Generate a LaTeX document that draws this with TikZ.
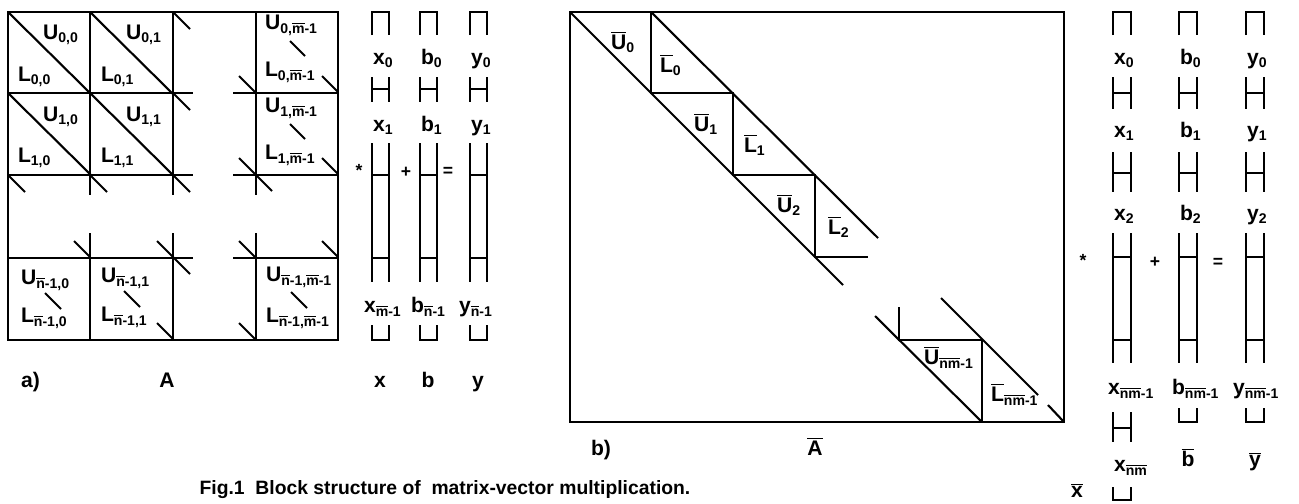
\documentclass[tikz,border=0pt]{standalone}
\usepackage{fontspec}
\setmainfont{Liberation Sans}
\usepackage{tikz}
\usetikzlibrary{positioning}
\newcommand{\ob}[1]{\ensuremath{\overline{\mbox{#1}}}}
\newcommand{\sx}[1]{\textsubscript{#1}}

\begin{document}
\begin{tikzpicture}[x=0.02cm, y=-0.02cm, line width=1.2pt,
    every node/.style={font=\fontsize{12}{14}\selectfont\bfseries, inner sep=0pt, anchor=mid},
    lbl/.style={anchor=mid west},
    op/.style={font=\fontsize{10}{12}\selectfont\bfseries}]
\useasboundingbox (0,0) rectangle (1299,504);

% a) block matrix A
\draw (8,12) rectangle (338,340);
\foreach \x in {90,173,256} {
    \draw (\x,12) -- (\x,195);
    \draw (\x,233) -- (\x,340);
}
\foreach \y in {93,175,258} {
    \draw (8,\y) -- (193,\y);
    \draw (233,\y) -- (338,\y);
}
\foreach \x/\y in {8/12,90/12,8/93,90/93}
    \draw (\x,\y) -- ++(83,82);
\foreach \x/\y/\l in {173/12/17,173/93/17,8/175/17,90/175/17,173/175/17,
        239/76/17,239/158/33,322/76/16,322/158/16,74/241/16,157/241/33,
        239/241/17,322/241/16,239/323/17,157/323/16,
        290/41/15,290/124/15,45/293/16,124/291/16,291/292/16}
    \draw (\x,\y) -- ++(\l,\l);

\node[lbl] (u00) at (42,35) {U\sx{0,0}};
\node[lbl] (l00) at (17,77) {L\sx{0,0}};
\node[lbl] (u01) at (125,35) {U\sx{0,1}};
\node[lbl] (l01) at (100,77) {L\sx{0,1}};
\node[lbl] (u10) at (42,117) {U\sx{1,0}};
\node[lbl] (l10) at (17,158) {L\sx{1,0}};
\node[lbl] (u11) at (125,117) {U\sx{1,1}};
\node[lbl] (l11) at (100,158) {L\sx{1,1}};
\node[lbl] (u0m) at (264,25) {U\sx{0,\ob{m}-1}};
\node[lbl] (l0m) at (264,72) {L\sx{0,\ob{m}-1}};
\node[lbl] (u1m) at (264,108) {U\sx{1,\ob{m}-1}};
\node[lbl] (l1m) at (264,155) {L\sx{1,\ob{m}-1}};
\node[lbl] (un0) at (20,280) {U\sx{\ob{n}-1,0}};
\node[lbl] (ln0) at (20,318) {L\sx{\ob{n}-1,0}};
\node[lbl] (un1) at (100,278) {U\sx{\ob{n}-1,1}};
\node[lbl] (ln1) at (100,317) {L\sx{\ob{n}-1,1}};
\node[lbl] (unm) at (265,277) {U\sx{\ob{n}-1,\ob{m}-1}};
\node[lbl] (lnm) at (265,318) {L\sx{\ob{n}-1,\ob{m}-1}};

% a) vectors x, b, y
\foreach \x in {372,420,470} {
    \draw (\x,35) -- (\x,12) -- (\x+17,12) -- (\x+17,35);
    \draw (\x,77) -- (\x,102) (\x+17,77) -- (\x+17,102) (\x,89) -- (\x+17,89);
    \draw (\x,143) -- (\x,282) (\x+17,143) -- (\x+17,282);
    \draw (\x,175) -- (\x+17,175) (\x,258) -- (\x+17,258);
    \draw (\x,325) -- (\x,340) -- (\x+17,340) -- (\x+17,325);
}
\foreach \x/\v/\s/\d in {372/x/\ob{m}/9,420/b/\ob{n}/10,470/y/\ob{n}/12} {
    \node[lbl] (\v0a) at (\x,60) {\v\sx{0}};
    \node[lbl] (\v1a) at (\x,127) {\v\sx{1}};
    \node[lbl] (\v2a) at (\x-\d,308) {\v\sx{\s-1}};
    \node (\v3a) at (\x+8,383) {\v};
}
\node[op] (mula) at (359,172) {*};
\node[op] (adda) at (406,173) {+};
\node[op] (eqa) at (448,172) {=};
\node[lbl] (labela) at (20,383) {a)};
\node (capa) at (167,383) {A};

% b) band matrix A-bar
\draw (570,12) rectangle (1064,422);
\draw (570,12) -- (843,285);
\draw (651,12) -- (878,238);
\draw (651,12) -- (651,93) -- (733,93) -- (733,175) -- (815,175) -- (815,257) -- (868,257);
\draw (875,316) -- (982,422);
\draw (899,307) -- (899,340) -- (982,340) -- (982,422);
\draw (941,298) -- (1038,395);
\draw (1048,405) -- (1064,422);

\node[lbl] (ub0) at (610,45) {\ob{U}\sx{0}};
\node[lbl] (lb0) at (659,68) {\ob{L}\sx{0}};
\node[lbl] (ub1) at (693,127) {\ob{U}\sx{1}};
\node[lbl] (lb1) at (743,148) {\ob{L}\sx{1}};
\node[lbl] (ub2) at (776,208) {\ob{U}\sx{2}};
\node[lbl] (lb2) at (827,230) {\ob{L}\sx{2}};
\node[lbl] (ubn) at (923,360) {\ob{U}\sx{\ob{n}\ob{m}-1}};
\node[lbl] (lbn) at (990,397) {\ob{L}\sx{\ob{n}\ob{m}-1}};

% b) vectors x-bar, b-bar, y-bar
\foreach \x in {1113,1179,1246} {
    \draw (\x,35) -- (\x,12) -- (\x+18,12) -- (\x+18,35);
    \draw (\x,77) -- (\x,109) (\x+18,77) -- (\x+18,109) (\x,93) -- (\x+18,93);
    \draw (\x,152) -- (\x,192) (\x+18,152) -- (\x+18,192) (\x,173) -- (\x+18,173);
    \draw (\x,233) -- (\x,363) (\x+18,233) -- (\x+18,363);
    \draw (\x,257) -- (\x+18,257) (\x,340) -- (\x+18,340);
}
\draw (1113,412) -- (1113,442) (1131,412) -- (1131,442) (1113,428) -- (1131,428);
\draw (1113,487) -- (1113,500) -- (1131,500) -- (1131,487);
\foreach \x in {1179,1246}
    \draw (\x,408) -- (\x,422) -- (\x+18,422) -- (\x+18,408);
\foreach \x/\v/\d in {1113/x/6,1179/b/8,1246/y/14} {
    \node[lbl] (\v0b) at (\x,60) {\v\sx{0}};
    \node[lbl] (\v1b) at (\x,133) {\v\sx{1}};
    \node[lbl] (\v2b) at (\x,216) {\v\sx{2}};
    \node[lbl] (\v3b) at (\x-\d,390) {\v\sx{\ob{n}\ob{m}-1}};
}
\node[lbl] (xnm) at (1113,467) {x\sx{\ob{n}\ob{m}}};
\node (bbar) at (1188,462) {\ob{b}};
\node (ybar) at (1255,462) {\ob{y}};
\node (xbar) at (1077,493) {\ob{x}};
\node[op] (mulb) at (1083,262) {*};
\node[op] (addb) at (1155,263) {+};
\node[op] (eqb) at (1218,263) {=};
\node (labelb) at (601,451) {b)};
\node (capb) at (815,451) {\ob{A}};

\node[font=\fontsize{11}{13}\selectfont\bfseries] (caption) at (445,490)
    {Fig.1\ \ Block structure of\ \ matrix-vector multiplication.};
\end{tikzpicture}
\end{document}
